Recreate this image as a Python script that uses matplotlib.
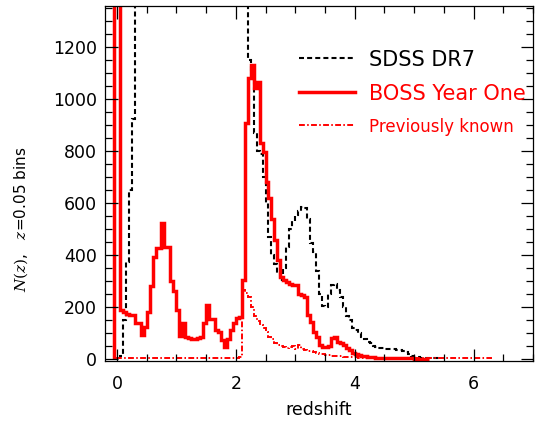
import numpy as np
import matplotlib
matplotlib.use("Agg")
import matplotlib.pyplot as plt
from matplotlib.ticker import MultipleLocator

# bin width 0.05 in redshift
dz = 0.05

# BOSS Year One, bins starting at z = -0.05
boss_z0 = -0.05
boss = [
    3000, 3000,
    188, 180, 172, 170, 170,
    137, 137, 92, 124, 182,
    281, 393, 428, 428, 522,
    432, 432, 300, 262, 190,
    88, 137, 86, 80, 78,
    76, 80, 86, 137, 208,
    154, 154, 111, 105, 73,
    47, 76, 111, 137, 157,
    160, 304, 906, 1080, 1131,
    1042, 1067, 830, 797, 682,
    618, 540, 458, 381, 317,
    304, 297, 290, 285, 285,
    250, 246, 240, 169, 143,
    105, 85, 54, 47, 47,
    50, 80, 86, 64, 60,
    54, 41, 35, 22, 20,
    15, 12, 10, 8, 7,
    6, 5, 5, 4, 4,
    4, 3, 3, 3, 2,
    2, 2, 2, 2, 1,
    1, 1, 1, 1,
]

# SDSS DR7, bins starting at z = 0.05
dr7_z0 = 0.05
dr7 = [
    10, 150, 374, 650, 923,
    1500, 1900, 2200, 2500, 2700, 2900, 3000, 3100, 3200, 3300,
    3350, 3400, 3450, 3500, 3500, 3450, 3400, 3350, 3300, 3250,
    3200, 3150, 3100, 3050, 3000, 2900, 2800, 2700, 2600, 2500,
    2300, 2100, 1800, 1500, 1450, 1420, 1400, 1380,
    1150, 1100, 869, 800, 790,
    700, 600, 470, 400, 365,
    330, 305, 350, 430, 500,
    530, 554, 570, 586, 581,
    540, 446, 410, 340, 250,
    205, 200, 250, 285, 290,
    265, 240, 200, 165, 150,
    120, 110, 100, 85, 75,
    65, 60, 50, 45, 42,
    42, 40, 40, 38, 38,
    36, 35, 30, 25, 18,
    12, 8, 6, 5, 4,
    4, 3, 3, 2, 2,
]

# previously known, bins starting at z = 0.00
prev_z0 = 0.0
prev = [
    4, 3, 4, 3, 5, 4, 3, 4, 5, 3,
    4, 3, 4, 5, 3, 4, 3, 4, 3, 5,
    4, 3, 4, 3, 4, 5, 3, 4, 3, 4,
    3, 4, 5, 3, 4, 3, 4, 3, 4, 5,
    4, 6,
    265, 252, 240, 200, 165,
    145, 131, 119, 105, 86,
    75, 60, 54, 50, 45,
    42, 45, 50, 40, 52,
    38, 35, 32, 30, 25,
    22, 20, 18, 15, 15,
    13, 12, 11, 10, 9,
    8, 7, 6, 6, 5,
    5, 4, 4, 3, 3,
    3, 3, 2, 2, 2,
    2, 2, 2, 2, 2,
    2, 2, 2, 2, 2,
    2, 2, 2, 2, 2,
    2, 2, 2, 2, 2,
    2, 2, 2, 2, 2,
    2, 2, 2, 2, 2,
    2, 2, 2, 2,
]


def edges(z0, vals):
    return z0 + dz * np.arange(len(vals) + 1)


plt.rcParams['font.family'] = ['DejaVu Sans']
plt.rcParams['mathtext.fontset'] = 'dejavuserif'

fig = plt.figure(figsize=(5.35, 4.24), dpi=100)
ax = fig.add_axes([105 / 535, 1 - 361 / 424, 428 / 535, 355 / 424])

ax.stairs(dr7, edges(dr7_z0, dr7), color='black', lw=1.5,
          linestyle=(0, (2.4, 1.5)), label='SDSS DR7')
ax.stairs(boss, edges(boss_z0, boss), color='red', lw=2.5,
          label='BOSS Year One')
ax.stairs(prev, edges(prev_z0, prev), color='red', lw=1.4,
          linestyle=(0, (3, 1.2, 0.8, 1.2)), label='Previously known')

ax.set_xlim(-0.2, 7.0)
ax.set_ylim(-8, 1358)
ax.xaxis.set_major_locator(MultipleLocator(2))
ax.xaxis.set_minor_locator(MultipleLocator(0.5))
ax.yaxis.set_major_locator(MultipleLocator(200))
ax.yaxis.set_minor_locator(MultipleLocator(50))
ax.tick_params(which='both', direction='in', top=True, right=True,
               labelsize=12.5, width=0.9)
ax.tick_params(axis='x', which='major', pad=10)
ax.tick_params(axis='y', which='major', pad=6)
ax.tick_params(which='major', length=9)
ax.tick_params(which='minor', length=5)
for s in ax.spines.values():
    s.set_linewidth(0.9)

ax.set_xlabel('redshift', fontsize=12.5, labelpad=6)
ax.set_ylabel(r'$N(z)$,   $z$=0.05 bins', fontsize=11)
ax.yaxis.set_label_coords(-0.175, 0.4)

leg = ax.legend(loc='upper right', bbox_to_anchor=(1.028, 0.93), frameon=False,
                handlelength=2.7, handletextpad=0.7, labelspacing=0.67,
                fontsize=15, labelcolor='linecolor')
leg.get_texts()[2].set_fontsize(12)

fig.savefig('out.png', dpi=100)
